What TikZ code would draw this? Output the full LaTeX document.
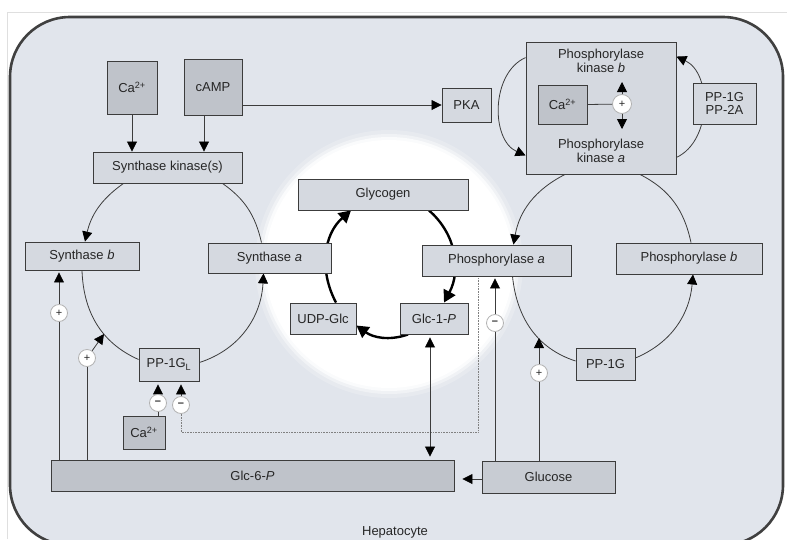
\documentclass[tikz,border=0pt]{standalone}
\usepackage{fontspec}
\setmainfont{Liberation Sans}
\usetikzlibrary{arrows.meta}
\definecolor{cellbg}{RGB}{225,229,236}
\definecolor{boxlt}{RGB}{213,217,224}
\definecolor{boxdk}{RGB}{191,195,202}
\definecolor{boxmd}{RGB}{200,204,211}
\definecolor{lineclr}{RGB}{60,60,60}
\pgfdeclarelayer{back}
\pgfsetlayers{back,main}

\begin{document}
\begin{tikzpicture}[x=1pt, y=1pt, >={Triangle[length=10pt,width=10pt,color=black]},
  font=\fontsize{13}{14}\selectfont, text=black!85,
  lbox/.style={draw=lineclr, line width=0.9pt, fill=boxlt, inner sep=0pt},
  dbox/.style={lbox, fill=boxdk},
  mbox/.style={lbox, fill=boxmd},
  signc/.style={circle, draw=gray!60, fill=white, line width=0.8pt, minimum size=17pt,
    inner sep=0pt, font=\fontsize{11}{11}\selectfont},
  cyc/.style={draw=lineclr, line width=0.8pt},
  heavy/.style={draw=black, line width=2.4pt, >={Triangle[length=12pt,width=13pt]}},
  dots/.style={draw=gray, line width=0.6pt, densely dotted}]

\useasboundingbox (0,0) rectangle (787,-539);

\node[dbox, minimum width=50pt, minimum height=53pt] (caA) at (132,-87.5) {Ca\textsuperscript{2+}};
\node[dbox, minimum width=58pt, minimum height=56pt] (camp) at (213,-87) {cAMP};
\node[lbox, minimum width=149pt, minimum height=31pt] (sk) at (167.5,-167.5) {Synthase kinase(s)};
\node[lbox, minimum width=49pt, minimum height=34pt] (pka) at (466.5,-105) {PKA};
\node[lbox, minimum width=150pt, minimum height=132pt] (phk) at (601,-108) {};
\node[align=center] (phkb) at (601,-61) {Phosphorylase\\kinase \textit{b}};
\node[align=center] (phka) at (601,-151) {Phosphorylase\\kinase \textit{a}};
\node[dbox, minimum width=49pt, minimum height=39pt] (caB) at (562.5,-104.5) {Ca\textsuperscript{2+}};
\node[signc, minimum size=19pt] (kplus) at (622,-104) {+};
\node[lbox, minimum width=63pt, minimum height=41pt, align=center, font=\fontsize{13}{13}\selectfont] (pp) at (724.5,-103.5) {PP-1G\\PP-2A};
\node[lbox, minimum width=114pt, minimum height=28pt] (synb) at (82,-256) {Synthase \textit{b}};
\node[lbox, minimum width=123pt, minimum height=30pt] (syna) at (269.5,-258) {Synthase \textit{a}};
\node[lbox, minimum width=170pt, minimum height=31pt] (glyc) at (383,-194.5) {Glycogen};
\node[lbox, minimum width=66pt, minimum height=31pt] (udp) at (323,-318.5) {UDP-Glc};
\node[lbox, minimum width=68pt, minimum height=31pt] (g1p) at (434,-318.5) {Glc-1-\textit{P}};
\node[lbox, minimum width=149pt, minimum height=31pt] (phosa) at (496.5,-260.5) {Phosphorylase \textit{a}};
\node[lbox, minimum width=146pt, minimum height=31pt] (phosb) at (689,-258.5) {Phosphorylase \textit{b}};
\node[lbox, minimum width=59pt, minimum height=32pt] (pp1g) at (605.5,-364) {PP-1G};
\node[lbox, minimum width=60pt, minimum height=33pt] (pp1gl) at (169,-364.5) {PP-1G\textsubscript{L}};
\node[dbox, minimum width=42pt, minimum height=33pt] (caC) at (144,-432.5) {Ca\textsuperscript{2+}};
\node[dbox, minimum width=403pt, minimum height=31pt] (g6p) at (252.5,-475.5) {Glc-6-\textit{P}};
\node[mbox, minimum width=133pt, minimum height=32pt] (gluc) at (548.5,-477) {Glucose};
\node (hep) at (395,-532) {Hepatocyte};

\node[signc] (s1) at (59,-313) {+};
\node[signc] (s2) at (87,-358) {+};
\node[signc] (s3) at (158,-403) {\textbf{--}};
\node[signc] (s4) at (181,-405) {\textbf{--}};
\node[signc] (s5) at (495,-323) {\textbf{--}};
\node[signc] (s6) at (539,-373) {+};

\coordinate (kbtip) at (622,-82);
\coordinate (katip) at (622,-129);
\coordinate (s2tip) at (104,-334);
\coordinate (s6tip) at (539,-338);
\coordinate (dotc) at (478,-432);

\draw[cyc] (caB.east) -- (kplus);
\draw[cyc, ->] (kplus.north) -- (kbtip);
\draw[cyc, ->] (kplus.south) -- (katip);

\begin{pgfonlayer}{back}
\fill[white] (0,0) rectangle (787,-539);
\draw[gray!25, line width=0.8pt] (7,-539) |- (787,-12);
\draw[fill=cellbg, draw=black!75, line width=2.6pt, rounded corners=60pt] (10,-17) rectangle (783,-545);

\foreach \r/\o in {134/0.2, 130/0.4, 127/0.7}
  \fill[white, opacity=\o] (389,-264) circle[radius=\r];
\fill[white] (389,-264) circle[radius=124];

\draw[cyc, ->] ([xshift=-44pt]sk.south) to[out=215, in=77] ([xshift=3pt]synb.north);
\draw[cyc] ([xshift=55pt]sk.south) to[out=-35, in=103] ([xshift=-8pt]syna.north);
\draw[cyc] (synb.south) to[out=-88, in=156] ([yshift=5pt]pp1gl.west);
\draw[cyc, ->] ([yshift=2pt]pp1gl.east) to[out=18, in=-93] ([xshift=-6pt]syna.south);

\draw[cyc, ->] ([xshift=-36pt]phk.south) to[out=207, in=80] ([xshift=17pt]phosa.north);
\draw[cyc] ([xshift=39pt]phk.south) to[out=-27, in=102] ([xshift=2pt]phosb.north);
\draw[cyc] ([xshift=16pt]phosa.south) to[out=-84, in=162] ([yshift=3pt]pp1g.west);
\draw[cyc, ->] ([yshift=6pt]pp1g.east) to[out=23, in=-95] ([xshift=4pt]phosb.south);

\draw[cyc, ->] ([yshift=-16pt]phk.north west) to[out=204, in=156] ([yshift=19pt]phk.south west);
\draw[cyc, ->] ([yshift=17pt]phk.south east) to[out=25, in=-25] ([yshift=-15pt]phk.north east);

\draw[heavy, ->] ([xshift=13pt]udp.north) to[out=118, in=221] ([xshift=-32pt]glyc.south);
\draw[heavy, ->] ([xshift=46pt]glyc.south) to[out=-41, in=62] ([xshift=10pt]g1p.north);
\draw[heavy, ->] ([xshift=-26pt]g1p.south) to[out=199, in=-36] ([yshift=-7pt]udp.east);

\draw[cyc, ->] (caA.south) -- (caA.south |- sk.north);
\draw[cyc, ->] ([xshift=-9pt]camp.south) -- ([xshift=-9pt]camp.south |- sk.north);
\draw[cyc, ->] (camp.east |- pka.west) -- (pka.west);

\draw[cyc] (s1 |- g6p.north) -- (s1);
\draw[cyc, ->, shorten >=2pt] (s1) -- (s1 |- synb.south);
\draw[cyc] (s2 |- g6p.north) -- (s2);
\draw[cyc, ->] (s2) -- (s2tip);
\draw[cyc] (caC.north -| s3) -- (s3);
\draw[cyc, ->, shorten >=3pt] (s3) -- (s3 |- pp1gl.south);
\draw[dots] (dotc |- phosa.south) -- (dotc) -- (dotc -| s4) -- (s4);
\draw[cyc, ->, shorten >=3pt] (s4) -- (s4 |- pp1gl.south);
\draw[cyc] (s5 |- gluc.north) -- (s5);
\draw[cyc, ->, shorten >=2pt] (s5) -- (s5 |- phosa.south);
\draw[cyc] (s6 |- gluc.north) -- (s6);
\draw[cyc, ->] (s6) -- (s6tip);
\draw[cyc, ->, shorten >=8pt] ([yshift=-2pt]gluc.west) -- ([yshift=-2pt]gluc.west -| g6p.east);
\draw[cyc, <->, shorten <=3pt, shorten >=3pt] ([xshift=-4pt]g1p.south) -- ([xshift=-4pt]g1p.south |- g6p.north);
\end{pgfonlayer}

\end{tikzpicture}
\end{document}
